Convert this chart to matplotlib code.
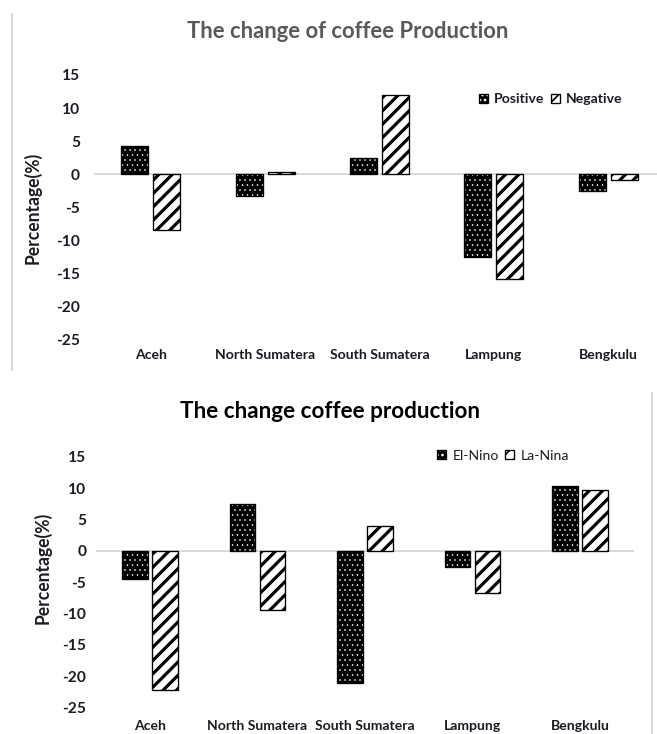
import numpy as np
import matplotlib
matplotlib.use("Agg")
import matplotlib.pyplot as plt
from matplotlib.patches import Patch

# Canvas in pixels
W, H, DPI = 657, 734, 120

regions = ["Aceh", "North Sumatera", "South Sumatera", "Lampung", "Bengkulu"]

# Upper panel: phases of the index
positive = [4.2, -3.3, 2.5, -12.5, -2.6]
negative = [-8.5, 0.35, 11.9, -15.9, -0.9]

# Lower panel: ENSO events
el_nino = [-4.5, 7.4, -21.0, -2.6, 10.4]
la_nina = [-22.1, -9.4, 3.9, -6.7, 9.7]

y_ticks = [15, 10, 5, 0, -5, -10, -15, -20, -25]

FONT = "Lato"
TEXT = "#1b1b24"


def pt(px):
    return px * 72.0 / DPI


fig = plt.figure(figsize=(W / DPI, H / DPI), dpi=DPI)
fig.patch.set_facecolor("white")


def axes_px(left, top, right, bottom):
    return fig.add_axes([left / W, 1 - bottom / H, (right - left) / W, (bottom - top) / H])


def set_hatch_lw(patches, lw):
    for p in patches:
        if hasattr(p, "set_hatch_linewidth"):
            p.set_hatch_linewidth(lw)


def dotted_bars(ax, x, vals, width):
    fill = ax.bar(x, vals, width, color="black", edgecolor="white",
                  hatch="....", linewidth=0, zorder=2)
    set_hatch_lw(fill, 0.35)
    ax.bar(x, vals, width, fill=False, edgecolor="black", linewidth=0.8, zorder=3)


def striped_bars(ax, x, vals, width):
    bars = ax.bar(x, vals, width, color="white", edgecolor="black",
                  hatch="///", linewidth=0.8, zorder=2)
    set_hatch_lw(bars, 1.9)


def panel(ax, a, b, ypad, xpad):
    x = np.arange(len(regions))
    width, off = 0.236, 0.14
    dotted_bars(ax, x - off, a, width)
    striped_bars(ax, x + off, b, width)
    ax.axhline(0, color="#d9d9d9", lw=pt(2), zorder=1)
    ax.set_xlim(-0.5, len(regions) - 0.5)
    ax.set_ylim(-25, 15)
    ax.set_yticks(y_ticks)
    ax.set_yticklabels([str(v) for v in y_ticks])
    ax.set_xticks(x)
    ax.set_xticklabels(regions)
    for s in ax.spines.values():
        s.set_visible(False)
    ax.tick_params(axis="y", length=0, pad=ypad)
    ax.tick_params(axis="x", length=0, pad=xpad)
    for lab in ax.get_xticklabels():
        lab.set_fontfamily(FONT)
        lab.set_fontweight("bold")
        lab.set_fontsize(pt(14))
        lab.set_color(TEXT)
    for lab in ax.get_yticklabels():
        lab.set_fontfamily(FONT)
        lab.set_fontweight("bold")
        lab.set_fontsize(pt(15.5))
        lab.set_color(TEXT)


def legend(ax, labels, x_px, y_px, weight):
    h_dot = (Patch(facecolor="black", edgecolor="white", hatch="....", linewidth=0),
             Patch(facecolor="none", edgecolor="black", linewidth=0.8))
    h_str = Patch(facecolor="white", edgecolor="black", hatch="///", linewidth=0.8)
    leg = ax.legend([h_dot, h_str], labels, loc="center left",
                    bbox_to_anchor=(x_px / W, 1 - y_px / H),
                    bbox_transform=fig.transFigure, ncol=2, frameon=False,
                    handlelength=0.65, handleheight=0.65, handletextpad=0.45,
                    columnspacing=0.45, borderpad=0, borderaxespad=0,
                    prop={"family": FONT, "weight": weight, "size": pt(14)})
    for t in leg.get_texts():
        t.set_color(TEXT)


# ---- upper chart ----
ax1 = axes_px(93.5, 75, 665.5, 339.3)
panel(ax1, positive, negative, ypad=pt(13.5), xpad=pt(10))
legend(ax1, ["Positive", "Negative"], 478.7, 99.3, "bold")
fig.text(348 / W, 1 - 31.7 / H, "The change of coffee Production", ha="center",
         va="center", fontsize=pt(22), fontfamily=FONT, fontweight="bold",
         color="#595959")
fig.text(33 / W, 1 - 208 / H, "Percentage(%)", rotation=90, ha="center",
         va="center", fontsize=pt(17.5), fontfamily=FONT, fontweight="bold",
         color=TEXT)
fig.add_artist(plt.Line2D([12 / W, 12 / W], [1 - 14 / H, 1 - 370 / H],
                          transform=fig.transFigure, color="#d9d9d9", lw=pt(2)))

# ---- lower chart ----
ax2 = axes_px(96.25, 456.7, 633.75, 707.7)
panel(ax2, el_nino, la_nina, ypad=pt(10), xpad=pt(12))
legend(ax2, ["El-Nino", "La-Nina"], 437.3, 455.7, "normal")
fig.text(330 / W, 1 - 411.7 / H, "The change coffee production", ha="center",
         va="center", fontsize=pt(22.5), fontfamily=FONT, fontweight="bold",
         color="black")
fig.text(43 / W, 1 - 568 / H, "Percentage(%)", rotation=90, ha="center",
         va="center", fontsize=pt(17.5), fontfamily=FONT, fontweight="bold",
         color=TEXT)
fig.add_artist(plt.Line2D([652 / W, 652 / W], [1 - 393 / H, 0],
                          transform=fig.transFigure, color="#d9d9d9", lw=pt(2)))

fig.savefig("out.png", dpi=DPI, facecolor="white")
